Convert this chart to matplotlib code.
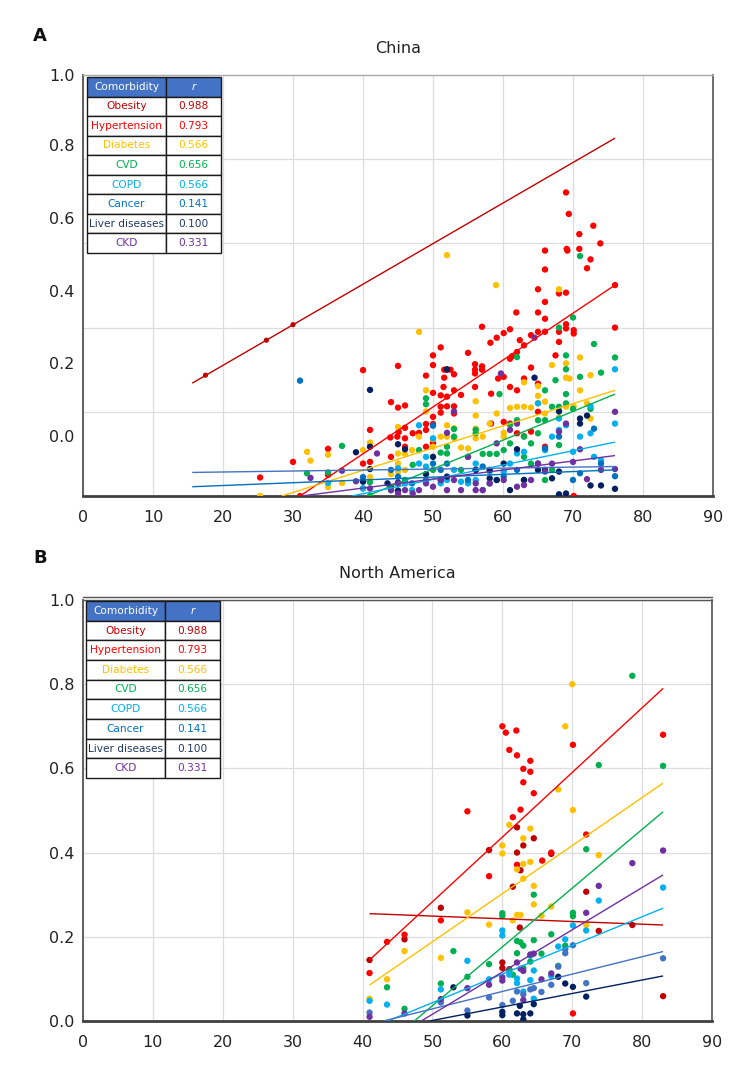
import matplotlib
matplotlib.use("Agg")
import matplotlib.pyplot as plt
import numpy as np

# ---------------- shared data ----------------
comorbidities = ["Obesity", "Hypertension", "Diabetes", "CVD", "COPD", "Cancer", "Liver diseases", "CKD"]
r_values = ["0.988", "0.793", "0.566", "0.656", "0.566", "0.141", "0.100", "0.331"]
table_colors = ["#C00000", "#FF0000", "#FFC000", "#00B050", "#00B0F0", "#0070C0", "#1F3864", "#7030A0"]
x_ticks = [0, 10, 20, 30, 40, 50, 60, 70, 80, 90]
y_tick_labels = ["0.0", "0.2", "0.4", "0.6", "0.8", "1.0"]
# panel A's printed y labels sit off the grid; positions (grid = 0..1)
a_label_pos = [0.143, 0.316, 0.487, 0.660, 0.834, 1.0]

# ---------------- panel A: China ----------------
a_obesity = [(17.5, 0.287), (26.2, 0.370), (30.0, 0.407)]
a_hyper = [(66.0, 0.583), (69.2, 0.583), (66.0, 0.538), (72.0, 0.541), (72.5, 0.562), (65.0, 0.491),
           (68.0, 0.481), (69.0, 0.483), (66.0, 0.461), (61.9, 0.436), (65.0, 0.436), (66.0, 0.421),
           (66.0, 0.390), (69.0, 0.408), (68.0, 0.390), (69.0, 0.398), (70.1, 0.394), (70.1, 0.386),
           (57.0, 0.402), (61.0, 0.396), (60.1, 0.387), (59.1, 0.376), (58.2, 0.364), (64.0, 0.382),
           (62.4, 0.370), (63.0, 0.358), (62.0, 0.342), (61.0, 0.326), (61.3, 0.332), (65.0, 0.390),
           (68.0, 0.366), (67.5, 0.334), (55.0, 0.340), (51.1, 0.353), (50.0, 0.334), (50.0, 0.311),
           (49.0, 0.286), (51.6, 0.300), (52.0, 0.300), (52.5, 0.300), (53.0, 0.289), (56.0, 0.313),
           (56.0, 0.300), (56.0, 0.291), (57.0, 0.308), (57.0, 0.300), (40.0, 0.299), (45.0, 0.309),
           (44.0, 0.223), (45.0, 0.210), (46.0, 0.215), (51.6, 0.281), (51.5, 0.259), (50.0, 0.245),
           (51.1, 0.239), (52.0, 0.236), (53.0, 0.251), (54.0, 0.240), (52.0, 0.213), (53.0, 0.213),
           (53.0, 0.196), (51.1, 0.198), (50.0, 0.188), (49.0, 0.171), (50.0, 0.171), (51.1, 0.212),
           (56.0, 0.259), (58.3, 0.243), (59.3, 0.279), (60.1, 0.283), (61.0, 0.259), (62.0, 0.251),
           (63.0, 0.279), (64.0, 0.305), (65.0, 0.267), (65.0, 0.200), (61.0, 0.172), (60.1, 0.176),
           (58.3, 0.172), (62.0, 0.149), (63.0, 0.142), (64.0, 0.153), (66.0, 0.117), (47.1, 0.149),
           (48.0, 0.150), (44.9, 0.141), (43.9, 0.139), (46.0, 0.137), (46.0, 0.162), (45.1, 0.152),
           (41.0, 0.157), (40.0, 0.077), (41.0, 0.081), (44.0, 0.093), (46.0, 0.117), (49.0, 0.157),
           (49.0, 0.117), (50.0, 0.126), (35.0, 0.112), (30.0, 0.081), (25.3, 0.044), (31.0, 0.0),
           (70.1, 0.0), (76.0, 0.501), (76.0, 0.400), (35.0, 0.050), (69.0, 0.721), (69.4, 0.670),
           (72.9, 0.642), (70.9, 0.622), (73.9, 0.600), (69.1, 0.587), (70.9, 0.587)]
a_diab = [(52.0, 0.572), (59.0, 0.501), (48.0, 0.390), (68.0, 0.491), (67.0, 0.311), (69.0, 0.315),
          (69.0, 0.281), (69.5, 0.279), (71.0, 0.329), (72.5, 0.287), (63.0, 0.270), (65.0, 0.261),
          (65.0, 0.238), (65.0, 0.221), (66.0, 0.224), (66.0, 0.196), (68.0, 0.187), (69.0, 0.212),
          (70.1, 0.213), (71.0, 0.251), (72.0, 0.220), (72.5, 0.184), (64.0, 0.210), (63.0, 0.212),
          (62.0, 0.212), (61.0, 0.209), (60.1, 0.150), (60.1, 0.141), (59.1, 0.196), (58.1, 0.172),
          (57.1, 0.141), (56.1, 0.225), (56.1, 0.191), (56.1, 0.160), (56.1, 0.137), (55.0, 0.113),
          (54.0, 0.115), (53.0, 0.161), (53.0, 0.137), (52.0, 0.168), (52.0, 0.141), (51.1, 0.141),
          (50.0, 0.135), (50.0, 0.117), (49.0, 0.201), (49.0, 0.251), (48.0, 0.141), (47.0, 0.109),
          (46.0, 0.100), (45.0, 0.164), (45.0, 0.101), (45.0, 0.077), (45.0, 0.058), (46.0, 0.062),
          (41.0, 0.125), (40.0, 0.109), (32.0, 0.105), (32.5, 0.084), (35.0, 0.098), (35.0, 0.021),
          (37.0, 0.031), (44.0, 0.052), (25.3, 0.0), (41.0, 0.127), (41.0, 0.045)]
a_cvd = [(71.0, 0.570), (70.0, 0.424), (73.0, 0.361), (76.0, 0.329), (68.0, 0.400), (69.0, 0.334),
         (69.0, 0.301), (71.0, 0.283), (69.0, 0.242), (69.0, 0.220), (70.0, 0.207), (68.0, 0.212),
         (67.0, 0.212), (66.0, 0.251), (67.5, 0.275), (62.0, 0.330), (59.5, 0.242), (74.0, 0.293),
         (72.5, 0.207), (65.0, 0.180), (66.0, 0.180), (65.0, 0.149), (64.0, 0.125), (63.0, 0.141),
         (62.0, 0.180), (61.0, 0.169), (61.0, 0.125), (60.1, 0.109), (59.1, 0.100), (58.1, 0.100),
         (57.1, 0.100), (56.1, 0.157), (56.1, 0.149), (55.0, 0.093), (54.0, 0.062), (53.0, 0.159),
         (53.0, 0.141), (52.0, 0.117), (52.0, 0.101), (51.1, 0.103), (50.0, 0.062), (49.0, 0.232),
         (49.0, 0.218), (48.0, 0.109), (47.1, 0.074), (46.0, 0.038), (45.0, 0.030), (40.0, 0.018),
         (41.0, 0.0), (37.0, 0.119), (35.0, 0.056), (32.0, 0.054), (44.0, 0.014), (47.1, 0.0),
         (63.0, 0.093), (64.0, 0.077), (66.0, 0.038), (67.0, 0.062), (68.0, 0.121), (41.0, 0.033)]
a_copd = [(76.0, 0.301), (76.0, 0.172), (72.5, 0.149), (72.5, 0.213), (71.0, 0.141), (70.0, 0.105),
          (69.0, 0.168), (68.0, 0.157), (67.0, 0.141), (66.0, 0.109), (65.0, 0.220), (63.0, 0.105),
          (62.0, 0.101), (61.0, 0.077), (60.1, 0.058), (59.1, 0.038), (58.1, 0.058), (57.1, 0.014),
          (56.1, 0.077), (56.1, 0.038), (55.0, 0.030), (54.0, 0.034), (53.0, 0.062), (52.0, 0.038),
          (51.1, 0.030), (50.0, 0.137), (49.0, 0.093), (49.0, 0.070), (48.0, 0.168), (48.0, 0.077),
          (47.0, 0.014), (46.0, 0.030), (45.0, 0.066), (40.0, 0.018), (35.0, 0.031), (74.0, 0.085),
          (73.0, 0.093), (68.0, 0.184)]
a_cancer = [(31.0, 0.274), (50.0, 0.167), (50.0, 0.077), (51.1, 0.062), (52.0, 0.077), (55.0, 0.038),
            (56.1, 0.062), (57.1, 0.070), (58.1, 0.030), (60.1, 0.046), (62.0, 0.062), (63.0, 0.038),
            (65.0, 0.077), (66.0, 0.113), (68.0, 0.141), (70.0, 0.038), (71.0, 0.054), (73.0, 0.160),
            (74.0, 0.077), (76.0, 0.047), (40.0, 0.045), (40.0, 0.036), (44.0, 0.062), (45.0, 0.046),
            (47.0, 0.030), (49.0, 0.038)]
a_liver = [(52.0, 0.301), (41.0, 0.252), (46.0, 0.111), (45.0, 0.123), (39.0, 0.104), (41.0, 0.117),
           (41.0, 0.064), (40.0, 0.034), (64.5, 0.281), (68.0, 0.201), (72.0, 0.191), (71.0, 0.184),
           (71.0, 0.172), (62.0, 0.111), (60.1, 0.077), (58.1, 0.042), (58.1, 0.062), (56.1, 0.062),
           (52.0, 0.046), (51.1, 0.038), (50.0, 0.093), (49.0, 0.052), (45.0, 0.032), (43.5, 0.030),
           (44.0, 0.021), (45.0, 0.013), (72.5, 0.025), (74.0, 0.025), (76.0, 0.017), (68.0, 0.004),
           (69.0, 0.006), (65.0, 0.062), (66.0, 0.062), (68.0, 0.058), (67.0, 0.042), (63.0, 0.038),
           (59.1, 0.038), (61.0, 0.014)]
a_ckd = [(64.5, 0.376), (59.7, 0.291), (53.0, 0.201), (52.0, 0.150), (69.0, 0.172), (68.0, 0.153),
         (76.0, 0.200), (76.0, 0.064), (74.0, 0.062), (72.0, 0.040), (71.0, 0.111), (67.0, 0.077),
         (66.0, 0.058), (65.0, 0.077), (64.0, 0.038), (63.0, 0.026), (62.0, 0.022), (62.0, 0.172),
         (61.0, 0.157), (60.1, 0.038), (59.1, 0.125), (58.1, 0.030), (57.1, 0.014), (56.1, 0.030),
         (56.1, 0.014), (55.0, 0.093), (54.0, 0.014), (53.0, 0.038), (52.0, 0.014), (51.1, 0.038),
         (50.0, 0.022), (49.0, 0.030), (48.0, 0.014), (47.1, 0.006), (46.0, 0.014), (45.0, 0.030),
         (45.0, 0.006), (44.0, 0.014), (42.0, 0.101), (39.0, 0.035), (37.0, 0.060), (32.5, 0.043),
         (70.0, 0.081), (41.0, 0.018)]
# trend lines (start x, end x, start y, end y)
a_trend_x = {"obesity": (15.6, 76.0), "hyper": (31.0, 76.0), "diab": (28.4, 76.0), "cvd": (40.6, 76.0),
             "copd": (38.4, 76.0), "cancer": (15.6, 76.0), "liver": (15.6, 76.0), "ckd": (31.2, 76.0)}
a_trend_y = {"obesity": (0.268, 0.850), "hyper": (0.0, 0.501), "diab": (0.0, 0.251), "cvd": (0.0, 0.242),
             "copd": (0.0, 0.128), "cancer": (0.022, 0.062), "liver": (0.056, 0.070), "ckd": (0.0, 0.096)}

# ---------------- panel B: North America ----------------
b_obesity = [(62.1, 0.460), (64.5, 0.434), (63.0, 0.417), (62.1, 0.400), (62.6, 0.358), (61.5, 0.319),
             (58.1, 0.406), (67.0, 0.397), (51.2, 0.269), (62.5, 0.222), (72.0, 0.307), (73.8, 0.214),
             (78.6, 0.228), (83.0, 0.059), (41.0, 0.145), (46.0, 0.194), (60.0, 0.139), (60.0, 0.126),
             (61.0, 0.123)]
b_hyper = [(70.1, 0.656), (61.0, 0.644), (62.1, 0.631), (64.0, 0.618), (63.0, 0.599), (64.0, 0.592),
           (63.0, 0.567), (64.5, 0.541), (55.0, 0.498), (62.6, 0.502), (61.5, 0.484), (72.0, 0.443),
           (67.0, 0.400), (65.7, 0.381), (62.1, 0.371), (58.1, 0.344), (51.2, 0.239), (41.0, 0.114),
           (43.5, 0.188), (46.0, 0.205), (70.1, 0.018), (83.0, 0.680), (60.0, 0.700), (60.5, 0.685),
           (62.0, 0.690)]
b_diab = [(68.0, 0.550), (70.1, 0.501), (61.0, 0.466), (64.0, 0.457), (60.0, 0.417), (60.0, 0.398),
          (63.0, 0.434), (63.0, 0.373), (64.0, 0.378), (62.1, 0.360), (63.0, 0.338), (64.5, 0.321),
          (64.5, 0.277), (73.8, 0.394), (67.0, 0.272), (65.6, 0.250), (62.1, 0.252), (62.6, 0.252),
          (61.5, 0.239), (58.1, 0.229), (55.0, 0.258), (51.2, 0.150), (72.0, 0.228), (46.0, 0.166),
          (43.5, 0.099), (41.0, 0.053), (70.0, 0.800), (69.0, 0.700)]
b_cvd = [(73.8, 0.608), (83.0, 0.606), (72.0, 0.408), (64.5, 0.300), (60.0, 0.256), (60.0, 0.250),
         (70.1, 0.257), (70.1, 0.249), (67.0, 0.206), (62.1, 0.190), (62.6, 0.187), (63.0, 0.179),
         (64.5, 0.192), (65.6, 0.160), (64.0, 0.141), (62.1, 0.161), (69.0, 0.179), (68.0, 0.131),
         (58.1, 0.135), (53.0, 0.166), (55.0, 0.105), (51.2, 0.089), (43.5, 0.080), (46.0, 0.029),
         (61.0, 0.121), (61.5, 0.110), (63.0, 0.126), (78.6, 0.820)]
b_copd = [(83.0, 0.317), (73.8, 0.286), (72.0, 0.215), (70.1, 0.227), (60.0, 0.215), (60.0, 0.203),
          (69.0, 0.194), (68.0, 0.177), (64.0, 0.155), (64.5, 0.120), (67.0, 0.107), (61.0, 0.110),
          (62.1, 0.101), (62.1, 0.090), (64.0, 0.097), (55.0, 0.143), (51.2, 0.075), (58.1, 0.099),
          (63.0, 0.070), (64.5, 0.053), (43.5, 0.039), (41.0, 0.048)]
b_cancer = [(83.0, 0.149), (72.0, 0.090), (70.1, 0.180), (69.0, 0.170), (69.0, 0.161), (68.0, 0.129),
            (67.0, 0.086), (65.6, 0.069), (64.5, 0.078), (64.0, 0.075), (63.0, 0.063), (62.1, 0.070),
            (61.5, 0.048), (60.0, 0.038), (58.1, 0.056), (55.0, 0.025), (51.2, 0.044), (41.0, 0.020)]
b_liver = [(69.0, 0.089), (70.1, 0.081), (72.0, 0.058), (68.0, 0.105), (64.5, 0.040), (64.0, 0.018),
           (63.0, 0.016), (63.0, 0.004), (62.1, 0.018), (62.5, 0.036), (60.0, 0.022), (60.0, 0.014),
           (55.0, 0.013), (53.0, 0.080)]
b_ckd = [(83.0, 0.405), (78.6, 0.375), (73.8, 0.321), (72.0, 0.257), (64.0, 0.158), (64.5, 0.160),
         (62.1, 0.139), (62.6, 0.124), (63.0, 0.119), (67.0, 0.113), (65.6, 0.099), (60.0, 0.104),
         (60.0, 0.096), (58.1, 0.086), (55.0, 0.078), (51.2, 0.052), (46.0, 0.018), (41.0, 0.010),
         (63.0, 0.050)]
b_trend_x = {"obesity": (41.0, 83.0), "hyper": (41.0, 83.0), "diab": (41.0, 83.0), "cvd": (47.4, 83.0),
             "copd": (43.6, 83.0), "cancer": (43.0, 83.0), "liver": (49.6, 83.0), "ckd": (48.4, 83.0)}
b_trend_y = {"obesity": (0.255, 0.228), "hyper": (0.145, 0.790), "diab": (0.0855, 0.565), "cvd": (0.0, 0.497),
             "copd": (0.0, 0.268), "cancer": (0.0, 0.165), "liver": (0.0, 0.107), "ckd": (0.0, 0.347)}

# ---------------- styles ----------------
a_colors = {"obesity": "#C00000", "hyper": "#FF0000", "diab": "#FFC000", "cvd": "#00B050",
            "copd": "#00B0F0", "cancer": "#0070C0", "liver": "#002060", "ckd": "#7030A0"}
a_line_colors = dict(a_colors, cancer="#0070C0", liver="#4472C4")
b_colors = dict(a_colors, cancer="#4472C4")

plt.rcParams["font.family"] = ["DejaVu Sans"]
fig = plt.figure(figsize=(7.55, 10.86), dpi=100)
W, H = 755, 1086


def px_axes(l, t, r, b):
    return fig.add_axes([l / W, 1 - b / H, (r - l) / W, (b - t) / H])


def style_axes(ax):
    ax.set_xlim(0, 90)
    ax.set_ylim(0, 1)
    ax.set_xticks(x_ticks)
    ax.set_xticklabels([str(v) for v in x_ticks])
    ax.tick_params(axis="both", length=0, labelsize=11.5, colors="#222222")
    ax.tick_params(axis="x", pad=10)
    ax.tick_params(axis="y", pad=6)
    ax.grid(True, which="both", color="#DDDDDD", linewidth=0.9)
    ax.set_axisbelow(True)
    ax.spines["left"].set_color("#555555")
    ax.spines["left"].set_linewidth(1.3)
    ax.spines["bottom"].set_color("#404040")
    ax.spines["bottom"].set_linewidth(2.0)
    ax.spines["right"].set_color("#555555")
    ax.spines["right"].set_linewidth(1.2)


def draw_panel(ax, series, colors, line_colors, tx, ty, small_obesity):
    for key, pts in series.items():
        xs = [p[0] for p in pts]
        ys = [p[1] for p in pts]
        s = 14 if (key == "obesity" and small_obesity) else 21
        ax.scatter(xs, ys, s=s, color=colors[key], edgecolors="none", zorder=3, clip_on=True)
    for key in series:
        ax.plot(tx[key], ty[key], color=line_colors[key], linewidth=1.0, zorder=4, solid_capstyle="butt")


def draw_table(ax, bbox):
    cell_text = [["Comorbidity", "r"]] + [[c, r] for c, r in zip(comorbidities, r_values)]
    tb = ax.table(cellText=cell_text, cellLoc="center", colWidths=[0.59, 0.41], bbox=bbox, zorder=6)
    tb.auto_set_font_size(False)
    for (row, col), cell in tb.get_celld().items():
        cell.set_edgecolor("#1a1a1a")
        cell.set_linewidth(1.0)
        txt = cell.get_text()
        txt.set_fontsize(7.6)
        if col == 0:
            cell._loc = "left"
            cell.PAD = 0.05
        if row == 0:
            cell.set_facecolor("#4472C4")
            txt.set_color("white")
            if col == 1:
                txt.set_fontstyle("italic")
        else:
            cell.set_facecolor("white")
            txt.set_color(table_colors[row - 1])


# Panel A
axA = px_axes(83, 75, 713, 496)
style_axes(axA)
axA.set_yticks(a_label_pos)
axA.set_yticklabels(y_tick_labels)
axA.set_yticks([0.2, 0.4, 0.6, 0.8], minor=True)
axA.tick_params(axis="y", which="minor", length=0)
axA.grid(False, axis="y", which="major")
axA.grid(True, axis="y", which="minor", color="#DDDDDD", linewidth=0.9)
axA.spines["top"].set_color("#AAAAAA")
axA.spines["top"].set_linewidth(1.0)
series_A = {"obesity": a_obesity, "hyper": a_hyper, "diab": a_diab, "cvd": a_cvd,
            "copd": a_copd, "cancer": a_cancer, "liver": a_liver, "ckd": a_ckd}
draw_panel(axA, series_A, a_colors, a_line_colors, a_trend_x, a_trend_y, True)
axA.set_title("China", fontsize=11.5, pad=16, color="#222222")
draw_table(axA, [4 / 630, 1 - 176 / 421 - 2 / 421, 134 / 630, 176 / 421])

# Panel B
axB = px_axes(83, 600, 712, 1021)
style_axes(axB)
axB.set_yticks([0, 0.2, 0.4, 0.6, 0.8, 1.0])
axB.set_yticklabels(y_tick_labels)
axB.spines["top"].set_color("#555555")
axB.spines["top"].set_linewidth(1.0)
axB.plot([0, 1], [1.007, 1.007], transform=axB.transAxes, color="#555555", linewidth=1.0, clip_on=False)
series_B = {"obesity": b_obesity, "hyper": b_hyper, "diab": b_diab, "cvd": b_cvd,
            "copd": b_copd, "cancer": b_cancer, "liver": b_liver, "ckd": b_ckd}
draw_panel(axB, series_B, b_colors, b_colors, b_trend_x, b_trend_y, False)
axB.set_title("North America", fontsize=11.5, pad=16, color="#222222")
draw_table(axB, [3 / 629, 1 - 177 / 421 - 1 / 421, 134 / 629, 177 / 421])

fig.text(40 / W, 1 - 36 / H, "A", fontsize=13, fontweight="bold", ha="center", va="center", color="#111111")
fig.text(40 / W, 1 - 558 / H, "B", fontsize=13, fontweight="bold", ha="center", va="center", color="#111111")

fig.savefig("out.png", dpi=100)
